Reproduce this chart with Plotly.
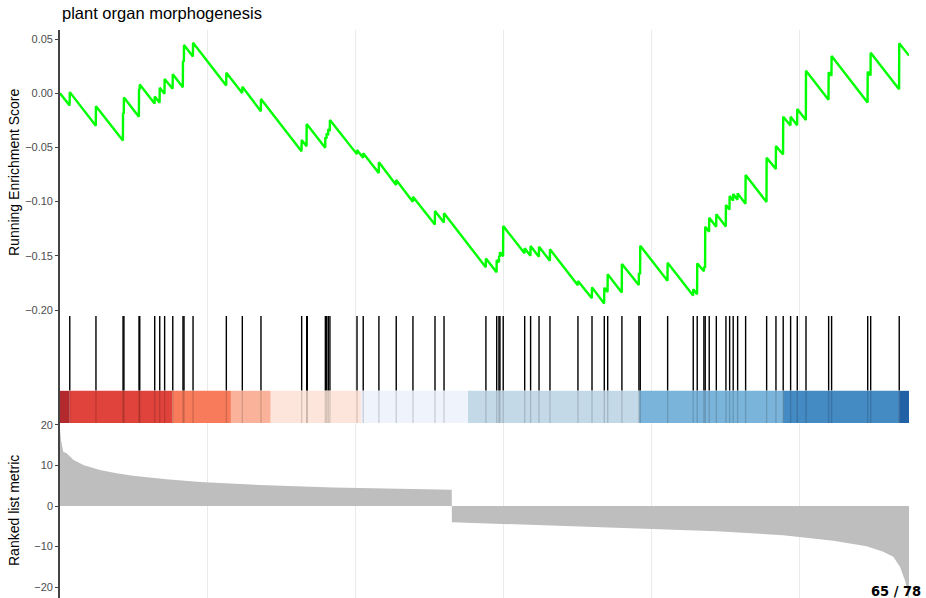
import plotly.graph_objects as go

# ---- gene set enrichment data ----
set_name = "plant organ morphogenesis"
n_genes = 5737
hit_count_label = "65 / 78"

# running enrichment score: vertices of the walk (rank, score)
es_rank = [
    0, 65, 66, 242, 243, 425, 426, 431, 432, 533, 534, 538, 539, 639, 640,
    673, 674, 706, 707, 761, 762, 830, 831, 837, 838, 898, 899, 1123, 1124,
    1231, 1232, 1357, 1358, 1632, 1633, 1666, 1667, 1792, 1793, 1801, 1802,
    1812, 1813, 1823, 1824, 2006, 2007, 2048, 2049, 2154, 2155, 2271, 2272,
    2384, 2385, 2533, 2534, 2594, 2595, 2877, 2878, 2950, 2951, 2966, 2967,
    2972, 2973, 2994, 2995, 3139, 3140, 3179, 3180, 3236, 3237, 3310, 3311,
    3499, 3500, 3594, 3595, 3677, 3678, 3700, 3701, 3796, 3797, 3911, 3912,
    3920, 3921, 4105, 4106, 4278, 4279, 4305, 4306, 4351, 4352, 4359, 4360,
    4386, 4387, 4434, 4435, 4499, 4500, 4524, 4525, 4548, 4549, 4578, 4579,
    4632, 4633, 4774, 4775, 4837, 4838, 4886, 4887, 4936, 4937, 4981, 4982,
    5040, 5041, 5193, 5194, 5213, 5214, 5457, 5458, 5477, 5478, 5670, 5671,
    5737,
]
es_value = [
    0.0000, -0.0114, 0.0010, -0.0300, -0.0120, -0.0437, -0.0180, -0.0189,
    -0.0040, -0.0218, 0.0040, 0.0033, 0.0080, -0.0096, -0.0030, -0.0088,
    0.0050, -0.0006, 0.0130, 0.0040, 0.0174, 0.0055, 0.0300, 0.0290, 0.0445,
    0.0339, 0.0466, 0.0072, 0.0189, 0.0001, 0.0060, -0.0166, -0.0054,
    -0.0535, -0.0432, -0.0490, -0.0284, -0.0503, -0.0405, -0.0419, -0.0370,
    -0.0388, -0.0330, -0.0348, -0.0247, -0.0562, -0.0524, -0.0596, -0.0554,
    -0.0735, -0.0637, -0.0846, -0.0801, -0.1001, -0.0955, -0.1212, -0.1087,
    -0.1193, -0.1108, -0.1605, -0.1524, -0.1652, -0.1539, -0.1558, -0.1500,
    -0.1509, -0.1468, -0.1505, -0.1225, -0.1477, -0.1431, -0.1500, -0.1410,
    -0.1509, -0.1416, -0.1546, -0.1440, -0.1771, -0.1732, -0.1892, -0.1791,
    -0.1940, -0.1794, -0.1833, -0.1671, -0.1838, -0.1576, -0.1770, -0.1656,
    -0.1670, -0.1407, -0.1731, -0.1564, -0.1867, -0.1809, -0.1855, -0.1570,
    -0.1642, -0.1600, -0.1612, -0.1232, -0.1278, -0.1148, -0.1231, -0.1117,
    -0.1229, -0.1032, -0.1074, -0.0949, -0.0991, -0.0930, -0.0983, -0.0924,
    -0.1019, -0.0755, -0.1003, -0.0595, -0.0698, -0.0487, -0.0566, -0.0217,
    -0.0298, -0.0217, -0.0296, -0.0146, -0.0248, 0.0208, -0.0060, 0.0193,
    0.0160, 0.0343, -0.0085, 0.0198, 0.0163, 0.0374, 0.0036, 0.0460, 0.0347,
]

# ranks of the genes belonging to the set
hit_rank = [
    66, 243, 426, 432, 534, 539, 640, 674, 707, 762, 831, 838, 899, 1124,
    1232, 1358, 1633, 1667, 1671, 1793, 1802, 1813, 1824, 2007, 2049, 2155,
    2272, 2385, 2534, 2595, 2878, 2951, 2966, 2973, 2995, 3140, 3180, 3237,
    3311, 3500, 3595, 3678, 3701, 3797, 3912, 3921, 4106, 4279, 4306, 4351,
    4360, 4387, 4435, 4500, 4525, 4549, 4579, 4633, 4775, 4838, 4887, 4937,
    4982, 5041, 5194, 5214, 5458, 5478, 5671,
]

# ranked list metric along the ranking
metric_rank = [
    0, 7, 22, 45, 90, 158, 270, 382, 493, 720, 946, 1396, 1845, 2297, 2647,
    2648, 2995, 3534, 3986, 4437, 4887, 5225, 5451, 5563, 5631, 5676, 5709,
    5728, 5737,
]
metric_value = [
    18.8, 16.3, 13.4, 13.0, 11.4, 10.1, 8.9, 8.1, 7.5, 6.6, 5.9, 5.1, 4.6,
    4.3, 4.0, -4.0, -4.4, -5.1, -5.6, -6.2, -7.2, -8.6, -9.9, -11.3, -12.5,
    -15.0, -18.3, -21.0, -24.0,
]

# colour band bins along the ranking
bin_edges = [0, 63, 759, 1155, 1424, 2034, 2757, 3914, 4887, 5671, 5737]
bin_colors = ["#B2292E", "#E0433B", "#F87B5C", "#FBB29A", "#FDE5DB",
              "#EFF3FC", "#C3D9E8", "#7AB4DA", "#448AC3", "#2162A6"]

# ---- figure ----
FONT = "Liberation Sans, Arial, sans-serif"
BAND_TOP = 0.298
TICK_LO, TICK_HI = 0.301, 0.991

fig = go.Figure()

fig.add_trace(go.Scatter(
    x=es_rank, y=es_value, mode="lines",
    line=dict(color="#00FF00", width=2.4),
    xaxis="x", yaxis="y", hoverinfo="skip", showlegend=False))

hx, hy, bx, by = [], [], [], []
for h in hit_rank:
    hx += [h, h, None]
    hy += [TICK_LO, TICK_HI, None]
    bx += [h, h, None]
    by += [0.0, BAND_TOP, None]

fig.add_trace(go.Scatter(
    x=hx, y=hy, mode="lines", line=dict(color="black", width=1.4),
    xaxis="x2", yaxis="y2", hoverinfo="skip", showlegend=False))
fig.add_trace(go.Scatter(
    x=bx, y=by, mode="lines", line=dict(color="rgba(0,0,0,0.15)", width=1.4),
    xaxis="x2", yaxis="y2", hoverinfo="skip", showlegend=False))

fig.add_trace(go.Scatter(
    x=metric_rank, y=metric_value, mode="lines", fill="tozeroy",
    fillcolor="#BEBEBE", line=dict(color="#BEBEBE", width=0),
    xaxis="x3", yaxis="y3", hoverinfo="skip", showlegend=False))

shapes = []
for i, c in enumerate(bin_colors):
    shapes.append(dict(type="rect", xref="x2", yref="y2",
                       x0=bin_edges[i], x1=bin_edges[i + 1],
                       y0=0.0, y1=BAND_TOP, fillcolor=c,
                       line=dict(width=0), layer="between"))

xcommon = dict(range=[0, n_genes], showgrid=True, gridcolor="#EBEBEB",
               gridwidth=1, tick0=0, dtick=1000, showticklabels=False,
               ticks="", zeroline=False, showline=False, domain=[0, 1])
ycommon = dict(showline=True, linecolor="#444444", linewidth=1.6,
               ticks="outside", ticklen=3, tickcolor="#444444", tickwidth=1,
               tickfont=dict(family=FONT, size=11, color="#4D4D4D"),
               showgrid=False, zeroline=False)

H, TOP = 598, 30
def py(px):
    return (H - px) / (H - TOP)

fig.update_layout(
    width=926, height=598,
    margin=dict(l=60, r=17, t=TOP, b=0),
    paper_bgcolor="white", plot_bgcolor="white",
    font=dict(family=FONT),
    xaxis=dict(**xcommon, anchor="y"),
    xaxis2=dict(**xcommon, anchor="y2"),
    xaxis3=dict(**xcommon, anchor="y3"),
    yaxis=dict(**ycommon, anchor="x", domain=[py(315), 1.0],
               range=[-0.2046, 0.0583],
               tickvals=[-0.2, -0.15, -0.1, -0.05, 0.0, 0.05],
               tickformat=".2f"),
    yaxis2=dict(showline=True, linecolor="#444444", linewidth=1.6,
                anchor="x2", domain=[py(423), py(315)], range=[0, 1],
                showticklabels=False, ticks="", showgrid=False,
                zeroline=False),
    yaxis3=dict(**ycommon, anchor="x3", domain=[0.0, py(423)],
                range=[-22.7, 20.49], tickvals=[-20, -10, 0, 10, 20]),
    shapes=shapes,
    annotations=[
        dict(text=set_name, xref="paper", yref="paper", x=0.0, y=py(13),
             xanchor="left", yanchor="middle", showarrow=False,
             font=dict(family=FONT, size=16.5, color="black")),
        dict(text="Running Enrichment Score", xref="paper", yref="paper",
             x=(14 - 60) / 849, y=py(172), textangle=-90,
             xanchor="center", yanchor="middle", showarrow=False,
             font=dict(family=FONT, size=14, color="black")),
        dict(text="Ranked list metric", xref="paper", yref="paper",
             x=(14 - 60) / 849, y=py(511), textangle=-90,
             xanchor="center", yanchor="middle", showarrow=False,
             font=dict(family=FONT, size=14, color="black")),
        dict(text="<b>" + hit_count_label + "</b>", xref="paper",
             yref="paper", x=(923 - 60) / 849, y=py(591),
             xanchor="right", yanchor="middle", showarrow=False,
             font=dict(family="DejaVu Sans Condensed, DejaVu Sans",
                       size=14.5, color="black")),
    ],
)

fig.write_html("out.html")
